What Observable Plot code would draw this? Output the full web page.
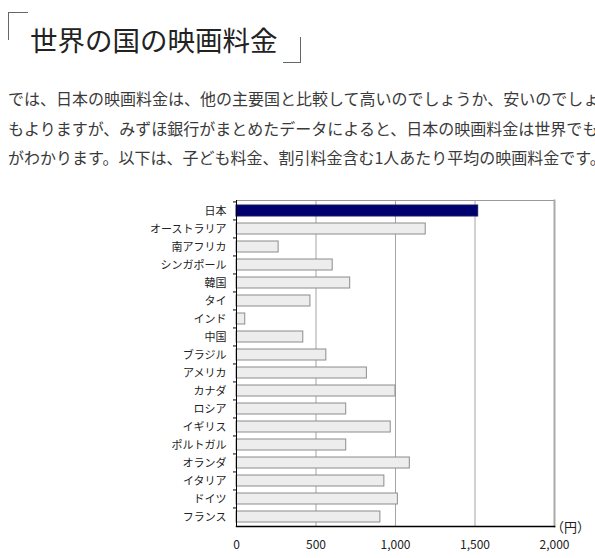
<!DOCTYPE html>
<html>
<head>
<meta charset="utf-8">
<script src="https://cdn.jsdelivr.net/npm/d3@7"></script>
<script src="https://cdn.jsdelivr.net/npm/@observablehq/plot@0.6"></script>
<style>
  html, body { margin: 0; padding: 0; background: #fff; width: 595px; height: 558px; overflow: hidden; }
  body { position: relative; font-family: "Noto Sans CJK JP", "Noto Sans", sans-serif; }
  .br1 { position: absolute; left: 8px; top: 12px; width: 19px; height: 27px; border-top: 1px solid #666; border-left: 1px solid #666; }
  .br2 { position: absolute; left: 283px; top: 37px; width: 17px; height: 25px; border-right: 1px solid #666; border-bottom: 1px solid #666; }
  .title { position: absolute; left: 30px; top: 24px; font-size: 27.5px; line-height: 30px; color: #222; white-space: nowrap; }
  .para { position: absolute; left: 8px; top: 84px; width: 700px; font-size: 16px; line-height: 29.5px; color: #3a3a3a; }
  .para div { white-space: nowrap; }
  #chart { position: absolute; left: 0; top: 190px; }
</style>
</head>
<body>
<div class="br1"></div>
<div class="title">世界の国の映画料金</div>
<div class="br2"></div>
<div class="para">
  <div>では、日本の映画料金は、他の主要国と比較して高いのでしょうか、安いのでしょうか。為替レートに</div>
  <div>もよりますが、みずほ銀行がまとめたデータによると、日本の映画料金は世界でも高い水準にあること</div>
  <div>がわかります。以下は、子ども料金、割引料金含む1人あたり平均の映画料金です。</div>
</div>
<div id="chart"></div>
<script>
const countries = ["日本","オーストラリア","南アフリカ","シンガポール","韓国","タイ","インド","中国","ブラジル","アメリカ","カナダ","ロシア","イギリス","ポルトガル","オランダ","イタリア","ドイツ","フランス"];
const prices = [1520,1190,265,605,715,465,55,420,565,820,1000,690,970,690,1090,930,1015,905];
const xTicks = [0,500,1000,1500,2000];
const gridTicks = [500,1000,1500];
const highlight = "日本";
const unitLabel = "（円）";

const data = countries.map((c, i) => ({country: c, price: prices[i]}));
const step = (526 - 200) / countries.length;

const chart = Plot.plot({
  width: 595,
  height: 368,
  marginLeft: 236,
  marginRight: 41,
  marginTop: 10,
  marginBottom: 32,
  style: {fontFamily: "'Noto Sans CJK JP', sans-serif", fontSize: "11px", color: "#222", background: "transparent", overflow: "visible"},
  x: {domain: [0, 2000], ticks: xTicks},
  y: {domain: countries, paddingInner: 0.4, paddingOuter: 0.2},
  marks: [
    Plot.ruleX(gridTicks, {stroke: "#a4a4ac", strokeWidth: 1}),
    Plot.barX(data, {
      x: "price", y: "country",
      fill: d => d.country === highlight ? "#00006e" : "#ededed",
      stroke: d => d.country === highlight ? "#1a1a60" : "#8c8c8c",
      strokeWidth: 1
    }),
    Plot.frame({anchor: "top", stroke: "#999"}),
    Plot.frame({anchor: "right", stroke: "#aaa", strokeWidth: 2}),
    Plot.frame({anchor: "left", stroke: "#000"}),
    Plot.frame({anchor: "bottom", stroke: "#000", strokeWidth: 1.5}),
    Plot.axisX({ticks: xTicks, tickSize: 0, tickPadding: 14, tickFormat: d3.format(","), fontSize: 12, label: null}),
    Plot.axisY({tickSize: 0, tickPadding: 10, label: null, fontSize: 11}),
    Plot.axisY({tickSize: 3, text: null, label: null, dy: -step / 2, stroke: "#000"}),
    Plot.text([unitLabel], {frameAnchor: "bottom-right", dx: 16, dy: 1, lineAnchor: "middle", fontSize: 13, textAnchor: "middle", fill: "#222"})
  ]
});
document.getElementById("chart").appendChild(chart);
</script>
</body>
</html>
